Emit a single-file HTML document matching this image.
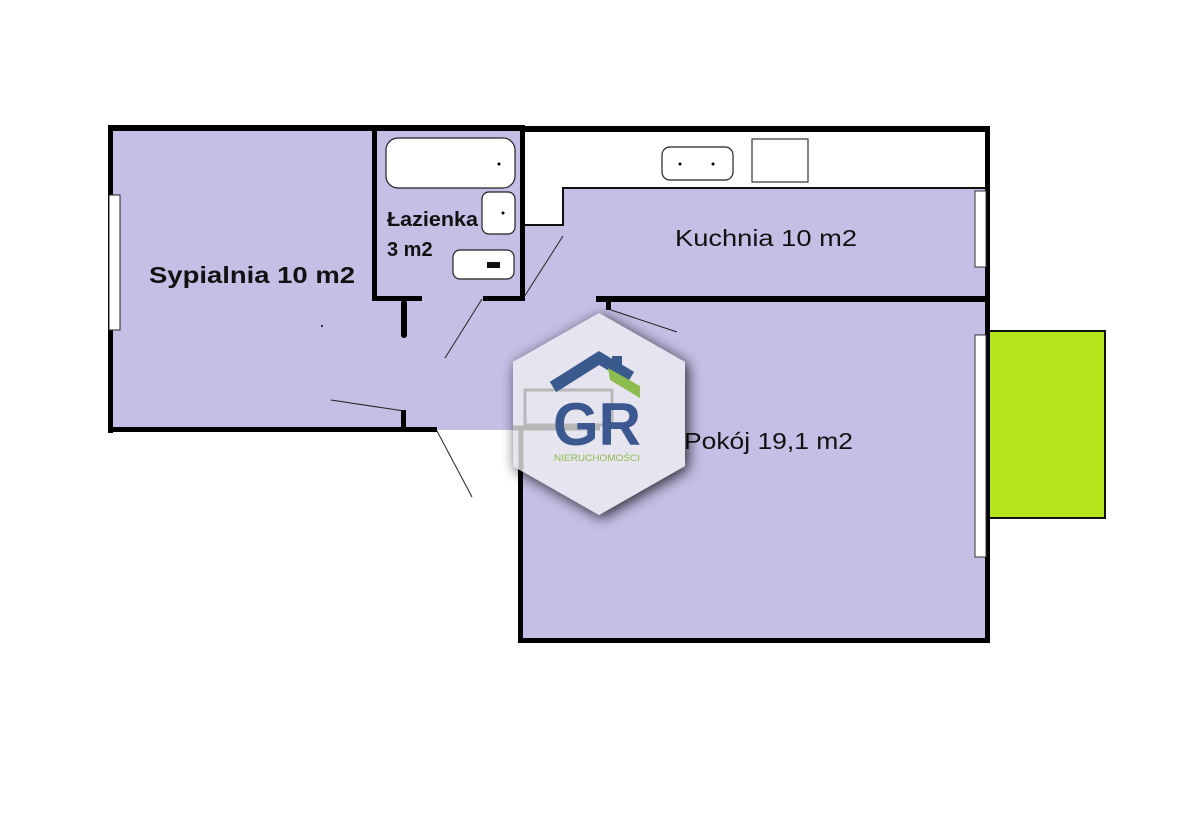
<!DOCTYPE html>
<html><head><meta charset="utf-8"><style>
html,body{margin:0;padding:0;background:#fff;}
svg{display:block;}
text{font-family:"Liberation Sans","DejaVu Sans",sans-serif;fill:#111;}
</style></head><body>
<svg width="1200" height="831" viewBox="0 0 1200 831" xmlns="http://www.w3.org/2000/svg">
<defs>
<filter id="sh" x="-30%" y="-30%" width="160%" height="160%">
<feGaussianBlur in="SourceAlpha" stdDeviation="7"/>
<feOffset dx="3" dy="3"/>
<feComponentTransfer><feFuncA type="linear" slope="0.8"/></feComponentTransfer>
<feMerge><feMergeNode/><feMergeNode in="SourceGraphic"/></feMerge>
</filter>
</defs>
<rect width="1200" height="831" fill="#fff"/>
<g fill="#c5bee5">
<rect x="110" y="128" width="265" height="302"/>
<rect x="375" y="128" width="148" height="170"/>
<rect x="375" y="298" width="225" height="132"/>
<rect x="563" y="188" width="425" height="112"/>
<rect x="523" y="225" width="60" height="75"/>
<rect x="520" y="298" width="468" height="344"/>
</g>
<rect x="525" y="130" width="462" height="58" fill="#fff"/>
<polyline points="525,225 563,225 563,188 987,188" fill="none" stroke="#111" stroke-width="2"/>
<rect x="662" y="147" width="71" height="33" rx="8" fill="#fff" stroke="#222" stroke-width="1.2"/>
<circle cx="680" cy="164" r="1.5" fill="#000"/><circle cx="713" cy="164" r="1.5" fill="#000"/>
<rect x="752" y="139" width="56" height="43" fill="#fff" stroke="#333" stroke-width="1.2"/>
<rect x="989" y="331" width="116" height="187" fill="#b5e61d" stroke="#111" stroke-width="2"/>
<g fill="#000">
<rect x="108" y="125" width="417" height="6"/>
<rect x="523" y="126" width="467" height="6"/>
<rect x="108" y="125" width="5" height="308"/>
<rect x="108" y="427" width="329" height="5"/>
<rect x="372" y="128" width="5" height="172"/>
<rect x="520" y="128" width="5" height="172"/>
<rect x="372" y="296" width="50" height="5"/>
<rect x="483" y="296" width="42" height="5"/>
<rect x="401" y="300" width="6" height="38" rx="3"/>
<rect x="401" y="410" width="5" height="20"/>
<rect x="596" y="296" width="394" height="6"/>
<rect x="606" y="300" width="5" height="10"/>
<rect x="985" y="126" width="5" height="517"/>
<rect x="518" y="430" width="5" height="212"/>
<rect x="518" y="638" width="472" height="5"/>
</g>
<rect x="109" y="195" width="11" height="135" fill="#fff" stroke="#222" stroke-width="1"/>
<rect x="975" y="191" width="11" height="76" fill="#fff" stroke="#333" stroke-width="1"/>
<rect x="975" y="335" width="11" height="222" fill="#fff" stroke="#333" stroke-width="1"/>
<rect x="386" y="138" width="129" height="50" rx="12" fill="#fff" stroke="#222" stroke-width="1.2"/>
<circle cx="499" cy="164" r="1.5" fill="#000"/>
<rect x="482" y="192" width="33" height="42" rx="7" fill="#fff" stroke="#222" stroke-width="1.2"/>
<circle cx="503" cy="213" r="1.5" fill="#000"/>
<rect x="453" y="250" width="61" height="29" rx="7" fill="#fff" stroke="#222" stroke-width="1.2"/>
<rect x="487" y="262" width="13" height="6" fill="#111"/>
<circle cx="322" cy="326" r="1" fill="#000"/>
<g stroke="#222" stroke-width="1" fill="none">
<line x1="524" y1="297" x2="563" y2="236"/>
<line x1="482" y1="299" x2="445" y2="358"/>
<line x1="404" y1="411" x2="331" y2="400"/>
<line x1="437" y1="431" x2="472" y2="497"/>
<line x1="611" y1="310" x2="677" y2="332"/>
</g>
<text x="149" y="283" font-size="23" font-weight="bold" textLength="206" lengthAdjust="spacingAndGlyphs">Sypialnia 10 m2</text>
<text x="387" y="226" font-size="20" font-weight="bold" textLength="91" lengthAdjust="spacingAndGlyphs">Łazienka</text>
<text x="387" y="256" font-size="20" font-weight="bold">3 m2</text>
<text x="675" y="246" font-size="23" textLength="182" lengthAdjust="spacingAndGlyphs">Kuchnia 10 m2</text>
<text x="684" y="449" font-size="23" textLength="169" lengthAdjust="spacingAndGlyphs">Pokój 19,1 m2</text>
<g filter="url(#sh)">
<polygon points="599,313 685,362 685,466 599,515 513,466 513,362" fill="#e6e4ef"/>
</g>
<rect x="525" y="390" width="87" height="35" fill="none" stroke="#b8b8b8" stroke-width="3"/>
<line x1="513" y1="428" x2="600" y2="428" stroke="#b8b8b8" stroke-width="5"/>
<line x1="521" y1="428" x2="521" y2="470" stroke="#b8b8b8" stroke-width="5"/>
<path d="M553,387 L599,358 L631,377" fill="none" stroke="#3a5a8e" stroke-width="12" stroke-linejoin="miter"/>
<rect x="612" y="356" width="10" height="16" fill="#3a5a8e"/>
<path d="M608,368 L640,386 L640,398 L610,380 Z" fill="#8dbd4e"/>
<text x="553" y="445" font-size="60" font-weight="bold" textLength="88" lengthAdjust="spacingAndGlyphs" style="fill:#3b5890">GR</text>
<text x="554" y="461" font-size="9" textLength="86" lengthAdjust="spacingAndGlyphs" style="fill:#8dbd4e">NIERUCHOMOŚCI</text>
</svg>
</body></html>
